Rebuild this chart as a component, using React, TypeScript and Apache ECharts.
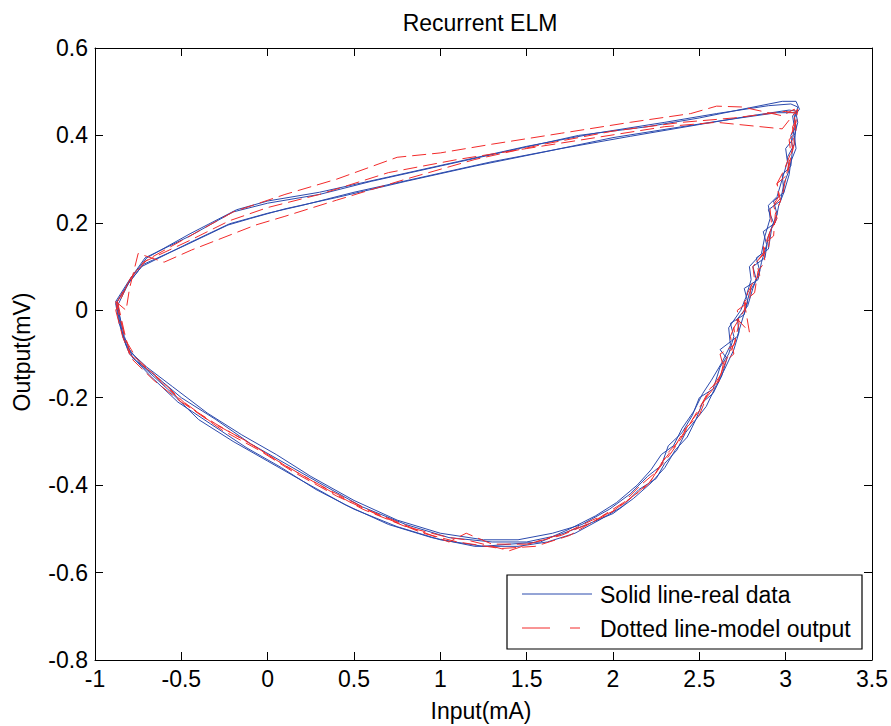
import React, { useEffect, useRef } from "react";
import * as echarts from "echarts";

const titleText = "Recurrent ELM";
const xName = "Input(mA)";
const yName = "Output(mV)";
const legendNames = ["Solid line-real data", "Dotted line-model output"];

const xMin = -1, xMax = 3.5, xStep = 0.5;
const yMin = -0.8, yMax = 0.6, yStep = 0.2;

// Real data cycles (solid blue)
const blue1 = [
  [-0.88,0.02],[-0.85,-0.04],[-0.81,-0.09],[-0.70,-0.13],[-0.55,-0.175],[-0.35,-0.235],[-0.15,-0.285],[0.05,-0.33],[0.25,-0.38],[0.50,-0.435],[0.75,-0.48],[1.00,-0.51],[1.25,-0.525],[1.45,-0.525],[1.65,-0.51],[1.82,-0.49],[1.98,-0.455],[2.10,-0.42],[2.20,-0.38],[2.28,-0.355],[2.32,-0.31],[2.40,-0.28],[2.46,-0.24],[2.50,-0.20],[2.58,-0.18],[2.62,-0.13],[2.67,-0.10],[2.70,-0.06],[2.68,-0.03],[2.76,-0.01],[2.79,0.04],[2.83,0.07],[2.81,0.10],[2.88,0.12],[2.90,0.17],[2.93,0.20],[2.90,0.23],[2.97,0.25],[2.99,0.29],[3.02,0.32],[3.01,0.35],[3.05,0.38],[3.06,0.42],[3.05,0.445],[3.08,0.46],[3.06,0.478],[2.98,0.478],[2.75,0.46],[2.50,0.44],[2.20,0.42],[1.80,0.40],[1.40,0.365],[1.00,0.33],[0.60,0.295],[0.30,0.265],[0.00,0.245],[-0.20,0.225],[-0.45,0.17],[-0.71,0.12],[-0.80,0.07],[-0.88,0.02]
];
const blue2 = [
  [-0.87,0.01],[-0.83,-0.06],[-0.78,-0.11],[-0.65,-0.15],[-0.50,-0.20],[-0.30,-0.25],[-0.10,-0.305],[0.10,-0.35],[0.30,-0.395],[0.55,-0.45],[0.80,-0.49],[1.05,-0.52],[1.30,-0.53],[1.50,-0.53],[1.68,-0.515],[1.85,-0.49],[2.00,-0.465],[2.12,-0.43],[2.22,-0.395],[2.30,-0.36],[2.36,-0.32],[2.43,-0.29],[2.48,-0.25],[2.54,-0.22],[2.60,-0.17],[2.64,-0.14],[2.70,-0.09],[2.73,-0.05],[2.72,-0.02],[2.78,0.01],[2.81,0.05],[2.85,0.09],[2.83,0.12],[2.90,0.14],[2.92,0.19],[2.95,0.22],[2.93,0.25],[2.99,0.27],[3.02,0.31],[3.03,0.34],[3.06,0.37],[3.05,0.40],[3.07,0.43],[3.06,0.45],[3.07,0.465],[3.03,0.472],[2.90,0.468],[2.60,0.45],[2.30,0.43],[1.90,0.405],[1.50,0.375],[1.10,0.34],[0.70,0.305],[0.30,0.27],[0.00,0.25],[-0.18,0.23],[-0.45,0.175],[-0.70,0.12],[-0.79,0.075],[-0.87,0.01]
];
const blue3 = [
  [-0.88,0.015],[-0.86,-0.03],[-0.82,-0.08],[-0.72,-0.13],[-0.58,-0.18],[-0.40,-0.25],[-0.20,-0.30],[0.00,-0.345],[0.20,-0.39],[0.45,-0.445],[0.70,-0.49],[0.95,-0.52],[1.20,-0.54],[1.45,-0.54],[1.62,-0.53],[1.78,-0.51],[1.92,-0.48],[2.05,-0.45],[2.15,-0.41],[2.25,-0.385],[2.30,-0.35],[2.37,-0.32],[2.42,-0.28],[2.48,-0.25],[2.52,-0.21],[2.58,-0.19],[2.63,-0.15],[2.66,-0.11],[2.62,-0.09],[2.72,-0.06],[2.75,-0.02],[2.78,0.02],[2.76,0.05],[2.84,0.07],[2.86,0.11],[2.89,0.15],[2.87,0.18],[2.94,0.20],[2.96,0.24],[2.99,0.27],[2.98,0.31],[3.03,0.33],[3.04,0.37],[3.03,0.40],[3.06,0.42],[3.05,0.44],[3.07,0.455],[3.02,0.458],[2.80,0.445],[2.50,0.425],[2.10,0.398],[1.70,0.37],[1.30,0.34],[0.90,0.305],[0.50,0.27],[0.20,0.24],[0.00,0.222],[-0.22,0.198],[-0.45,0.155],[-0.73,0.10],[-0.81,0.06],[-0.88,0.015]
];
const blue4 = [
  [-0.87,0.02],[-0.84,-0.06],[-0.80,-0.10],[-0.68,-0.15],[-0.52,-0.21],[-0.33,-0.26],[-0.12,-0.315],[0.08,-0.36],[0.28,-0.41],[0.50,-0.455],[0.75,-0.495],[1.00,-0.525],[1.25,-0.54],[1.40,-0.535],[1.58,-0.53],[1.75,-0.50],[1.90,-0.47],[2.02,-0.44],[2.14,-0.40],[2.22,-0.365],[2.28,-0.33],[2.35,-0.31],[2.40,-0.27],[2.47,-0.23],[2.52,-0.19],[2.57,-0.16],[2.63,-0.12],[2.68,-0.08],[2.67,-0.04],[2.74,0.00],[2.77,0.03],[2.80,0.07],[2.79,0.10],[2.86,0.13],[2.88,0.17],[2.91,0.21],[2.90,0.24],[2.95,0.26],[2.98,0.30],[3.01,0.34],[3.00,0.37],[3.04,0.39],[3.05,0.42],[3.04,0.445],[3.06,0.452],[2.95,0.452],[2.70,0.438],[2.40,0.42],[2.00,0.395],[1.60,0.362],[1.20,0.33],[0.80,0.295],[0.40,0.258],[0.10,0.232],[-0.10,0.21],[-0.23,0.195],[-0.48,0.148],[-0.72,0.105],[-0.80,0.065],[-0.87,0.02]
];

// Model output cycles (dashed red)
const red1 = [
  [-0.88,0.00],[-0.84,-0.06],[-0.80,-0.10],[-0.68,-0.14],[-0.52,-0.20],[-0.33,-0.255],[-0.12,-0.30],[0.08,-0.35],[0.30,-0.40],[0.55,-0.455],[0.80,-0.495],[1.05,-0.52],[1.15,-0.525],[1.40,-0.55],[1.55,-0.53],[1.72,-0.51],[1.88,-0.48],[2.00,-0.46],[2.12,-0.425],[2.22,-0.39],[2.28,-0.35],[2.36,-0.31],[2.42,-0.27],[2.50,-0.24],[2.54,-0.20],[2.60,-0.17],[2.64,-0.13],[2.62,-0.10],[2.70,-0.08],[2.73,-0.03],[2.72,0.00],[2.79,0.02],[2.80,0.06],[2.85,0.08],[2.83,0.11],[2.90,0.14],[2.91,0.18],[2.95,0.21],[2.93,0.24],[2.98,0.26],[3.00,0.30],[3.02,0.34],[3.04,0.37],[3.03,0.40],[3.06,0.43],[3.07,0.46],[3.05,0.45],[2.98,0.415],[2.60,0.43],[2.30,0.42],[1.90,0.395],[1.50,0.37],[1.10,0.345],[0.70,0.315],[0.30,0.265],[0.00,0.235],[-0.22,0.205],[-0.45,0.16],[-0.72,0.11],[-0.80,0.07],[-0.88,0.00]
];
const red2 = [
  [-0.87,0.02],[-0.83,-0.05],[-0.79,-0.11],[-0.66,-0.16],[-0.50,-0.21],[-0.30,-0.26],[-0.08,-0.31],[0.12,-0.36],[0.35,-0.41],[0.60,-0.46],[0.85,-0.50],[1.05,-0.53],[1.15,-0.51],[1.30,-0.535],[1.50,-0.535],[1.70,-0.515],[1.85,-0.49],[1.98,-0.465],[2.10,-0.43],[2.20,-0.40],[2.27,-0.36],[2.33,-0.33],[2.40,-0.29],[2.46,-0.25],[2.52,-0.21],[2.56,-0.18],[2.62,-0.16],[2.64,-0.12],[2.70,-0.10],[2.68,-0.06],[2.72,-0.02],[2.79,-0.05],[2.76,0.02],[2.82,0.04],[2.84,0.09],[2.88,0.11],[2.87,0.15],[2.93,0.17],[2.94,0.22],[2.97,0.25],[2.95,0.29],[3.01,0.31],[3.03,0.35],[3.05,0.38],[3.04,0.42],[3.07,0.44],[3.05,0.46],[2.98,0.445],[2.75,0.465],[2.60,0.467],[2.45,0.45],[2.10,0.43],[1.70,0.405],[1.30,0.38],[1.00,0.36],[0.75,0.35],[0.40,0.30],[0.10,0.265],[-0.20,0.225],[-0.45,0.17],[-0.70,0.115],[-0.79,0.075],[-0.87,0.02]
];
const red3 = [
  [-0.88,0.02],[-0.82,-0.07],[-0.76,-0.11],[-0.62,-0.16],[-0.46,-0.22],[-0.26,-0.275],[-0.05,-0.32],[0.15,-0.37],[0.40,-0.425],[0.65,-0.47],[0.90,-0.51],[1.10,-0.53],[1.35,-0.545],[1.55,-0.54],[1.75,-0.515],[1.92,-0.475],[2.06,-0.44],[2.16,-0.40],[2.25,-0.37],[2.32,-0.325],[2.38,-0.30],[2.44,-0.26],[2.50,-0.23],[2.55,-0.19],[2.62,-0.15],[2.66,-0.11],[2.71,-0.07],[2.70,-0.04],[2.76,0.00],[2.78,0.04],[2.82,0.07],[2.81,0.10],[2.87,0.13],[2.89,0.16],[2.92,0.19],[2.91,0.23],[2.96,0.26],[2.95,0.29],[2.99,0.32],[3.03,0.36],[3.02,0.39],[3.06,0.41],[3.05,0.44],[3.07,0.45],[3.00,0.455],[2.70,0.44],[2.40,0.43],[2.00,0.41],[1.60,0.38],[1.20,0.345],[0.80,0.30],[0.40,0.252],[0.10,0.215],[-0.07,0.195],[-0.44,0.138],[-0.60,0.11],[-0.75,0.13],[-0.80,0.05],[-0.82,0.00],[-0.88,0.02]
];

const blueCycles = [blue1, blue2, blue3, blue4];
const redCycles = [red1, red2, red3];

const BLUE = "#2b4aad";
const RED = "#f22a2a";
const FONT = "'Liberation Sans', Arial, Helvetica, sans-serif";
const FS = 23;

export default function App() {
  const ref = useRef<HTMLDivElement>(null);
  useEffect(() => {
    if (!ref.current) return;
    const chart = echarts.init(ref.current, null, { renderer: "svg" });
    const L = 95, T = 48, W = 777, H = 612;
    const axisCommon = {
      type: "value" as const,
      splitLine: { show: false },
      axisLine: { show: true, onZero: false, lineStyle: { color: "#000", width: 1 } },
      axisTick: { show: true, inside: true, length: 8, lineStyle: { color: "#000" } },
    };
    const series: any[] = [];
    blueCycles.forEach((d, i) => {
      series.push({
        type: "line", name: legendNames[0] + i, data: d, showSymbol: false, symbol: "none",
        lineStyle: { color: BLUE, width: 1 }, z: 2,
      });
    });
    redCycles.forEach((d, i) => {
      series.push({
        type: "line", name: legendNames[1] + i, data: d, showSymbol: false, symbol: "none",
        lineStyle: { color: RED, width: 1, type: [14, 6] }, z: 3,
      });
    });
    const lx = 507, ly = 575, lw = 355, lh = 74;
    chart.setOption({
      animation: false,
      backgroundColor: "#fff",
      grid: { left: L, top: T, width: W, height: H, containLabel: false },
      xAxis: [
        { ...axisCommon, position: "bottom", min: xMin, max: xMax, interval: xStep,
          axisLabel: { color: "#000", fontSize: FS, fontFamily: FONT, margin: 7,
            showMaxLabel: true, showMinLabel: true } },
        { ...axisCommon, position: "top", min: xMin, max: xMax, interval: xStep,
          axisLabel: { show: false } },
      ],
      yAxis: [
        { ...axisCommon, position: "left", min: yMin, max: yMax, interval: yStep,
          axisLabel: { color: "#000", fontSize: FS, fontFamily: FONT, margin: 7,
            formatter: (v: number) => String(Math.round(v * 10) / 10) } },
        { ...axisCommon, position: "right", min: yMin, max: yMax, interval: yStep,
          axisLabel: { show: false } },
      ],
      series,
      graphic: [
        { type: "text", x: 480, y: 23, style: { text: titleText, font: `${FS}px ${FONT}`, fill: "#000", align: "center", verticalAlign: "middle" } },
        { type: "text", x: 481, y: 711, style: { text: xName, font: `${FS}px ${FONT}`, fill: "#000", align: "center", verticalAlign: "middle" } },
        { type: "text", x: 22, y: 352, rotation: Math.PI / 2, style: { text: yName, font: `${FS}px ${FONT}`, fill: "#000", align: "center", verticalAlign: "middle" } },
        { type: "rect", shape: { x: lx, y: ly, width: lw, height: lh }, style: { fill: "#fff", stroke: "#000", lineWidth: 1.2 }, z: 10 },
        { type: "line", shape: { x1: 522, y1: 594, x2: 592, y2: 594 }, style: { stroke: BLUE, lineWidth: 1 }, z: 11 },
        { type: "line", shape: { x1: 522, y1: 628, x2: 550, y2: 628 }, style: { stroke: RED, lineWidth: 1 }, z: 11 },
        { type: "line", shape: { x1: 570, y1: 628, x2: 580, y2: 628 }, style: { stroke: RED, lineWidth: 1 }, z: 11 },
        { type: "text", x: 600, y: 595, style: { text: legendNames[0], font: `${FS}px ${FONT}`, fill: "#000", align: "left", verticalAlign: "middle" }, z: 11 },
        { type: "text", x: 600, y: 629, style: { text: legendNames[1], font: `${FS}px ${FONT}`, fill: "#000", align: "left", verticalAlign: "middle" }, z: 11 },
      ],
    });
    return () => chart.dispose();
  }, []);
  return (
    <div ref={ref} style={{ position: "fixed", left: 0, top: 0, width: 891, height: 726 }} />
  );
}
